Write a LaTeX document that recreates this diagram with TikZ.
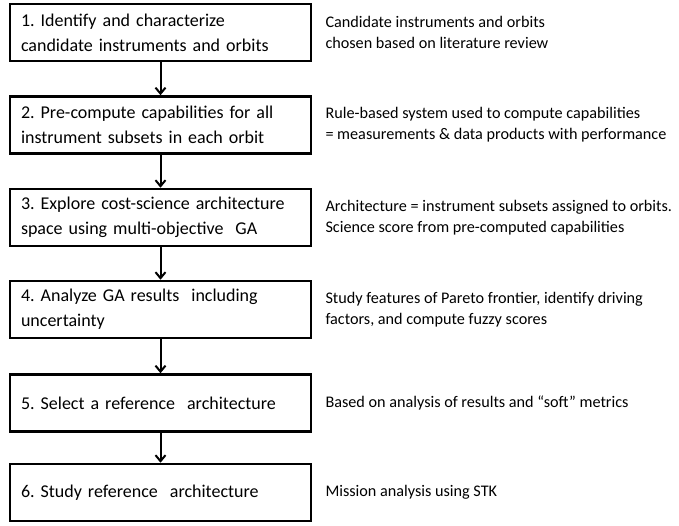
\documentclass[tikz,border=0pt]{standalone}
\usepackage{fontspec}
\setmainfont{Carlito}
\usetikzlibrary{arrows.meta}
\frenchspacing
\newcommand\myWideSpace{\spaceskip=5.2pt\relax}
\begin{document}
\begin{tikzpicture}[x=1pt,y=-1pt,
  stepbox/.style={draw, line width=2.6pt, text width=279pt, minimum height=57pt,
    inner xsep=11pt, inner ysep=0pt, align=left, font=\fontsize{18}{25}\selectfont\myWideSpace},
  note/.style={anchor=west, align=left, inner sep=0pt, font=\fontsize{16.2}{21}\selectfont},
  flow/.style={line width=2pt, -{Straight Barb[length=6pt,width=10pt]}}]
\useasboundingbox (0,0) rectangle (679,525);
\node[stepbox] (b1) at (160.5,32.5) {1. Identify and characterize\\candidate instruments and orbits};
\node[stepbox] (b2) at (160.5,125) {2. Pre-compute capabilities for all\\instrument subsets in each orbit};
\node[stepbox] (b3) at (160.5,217.5) {3. Explore cost-science architecture\\space using multi-objective\ \ GA};
\node[stepbox] (b4) at (160.5,309.5) {4. Analyze GA results\ \ including\\uncertainty};
\node[stepbox] (b5) at (160.5,403) {5. Select a reference\ \ architecture};
\node[stepbox] (b6) at (160.5,492.5) {6. Study reference\ \ architecture};
\node[note] (n1) at ([xshift=13pt]b1.east) {Candidate instruments and orbits\\chosen based on literature review};
\node[note] (n2) at ([xshift=13pt]b2.east) {Rule-based system used to compute capabilities\\= measurements \& data products with performance};
\node[note] (n3) at ([xshift=13pt]b3.east) {Architecture = instrument subsets assigned to orbits.\\Science score from pre-computed capabilities};
\node[note] (n4) at ([xshift=13pt]b4.east) {Study features of Pareto frontier, identify driving\\factors, and compute fuzzy scores};
\node[note] (n5) at ([xshift=13pt]b5.east) {Based on analysis of results and “soft” metrics};
\node[note] (n6) at ([xshift=13pt]b6.east) {Mission analysis using STK};
\draw[flow] (b1) -- (b2);
\draw[flow] (b2) -- (b3);
\draw[flow] (b3) -- (b4);
\draw[flow] (b4) -- (b5);
\draw[flow] (b5) -- (b6);
\end{tikzpicture}
\end{document}
